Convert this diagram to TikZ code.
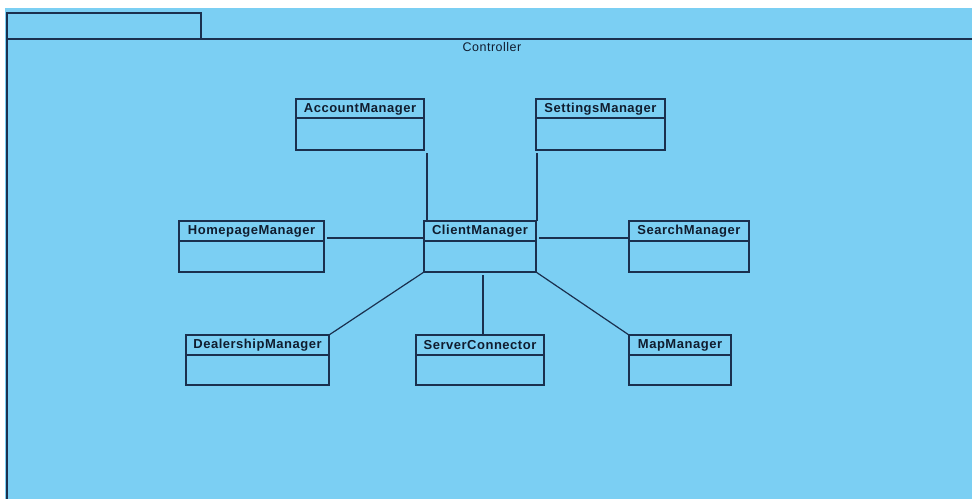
\documentclass[tikz,border=0pt]{standalone}
\usepackage{fontspec}
\setmainfont{Liberation Sans}
\newfontfamily\clsfont[LetterSpace=4]{Liberation Sans}
\newfontfamily\ttlfont[LetterSpace=4]{Liberation Sans}
\definecolor{pkgblue}{RGB}{123,207,243}
\definecolor{lncol}{RGB}{26,48,78}
\definecolor{txtcol}{RGB}{16,28,46}
\tikzset{
  ln/.style={draw=lncol, line width=1.2pt},
  clsbox/.style={draw=lncol, line width=1.2pt, rectangle, inner sep=0pt, outer sep=0pt},
  clstext/.style={text=txtcol, inner sep=0pt, font=\clsfont\bfseries\fontsize{13}{15}\selectfont},
  ttltext/.style={text=txtcol, inner sep=0pt, font=\ttlfont\fontsize{12.5}{15}\selectfont}
}
\newcommand\umlcls[7]{%
  \node[clsbox, minimum width={#4-#2}, minimum height={#6-#3}] (#1) at ({(#2+#4)/2},{(#3+#6)/2}) {};
  \draw[ln] (#2,#5) -- (#4,#5);
  \node[clstext] (#1-t) at ({(#2+#4)/2},{(#3+#5)/2+0.5}) {#7};
}
\begin{document}
\begin{tikzpicture}[x=1pt,y=-1pt]
\useasboundingbox (0,0) rectangle (972,499);
\fill[white] (0,0) rectangle (972,499);
\fill[pkgblue] (5,8) rectangle (972,499);
% package frame
\draw[ln] (7,39) rectangle (201,13);
\draw[ln] (972,39) -- (7,39) -- (7,499);
\node[ttltext] (title) at (492,47.5) {Controller};
% classes
\umlcls{acc}{296}{99}{424}{118}{150}{AccountManager}
\umlcls{set}{536}{99}{665}{118}{150}{SettingsManager}
\umlcls{home}{179}{221}{324}{241}{272}{HomepageManager}
\umlcls{client}{424}{221}{536}{241}{272}{ClientManager}
\umlcls{search}{629}{221}{749}{241}{272}{SearchManager}
\umlcls{deal}{186}{335}{329}{355}{385}{DealershipManager}
\umlcls{server}{416}{335}{544}{355}{385}{ServerConnector}
\umlcls{map}{629}{335}{731}{355}{385}{MapManager}
% connectors
\draw[ln] ([xshift=3pt,yshift=-3pt]acc.south east) -- ([xshift=3pt]client.north west);
\draw[ln] ([xshift=1pt,yshift=-3pt]set.south west) -- ([xshift=1pt]client.north east);
\draw[ln] ([xshift=3pt,yshift=-17pt]home.north east) -- ([yshift=-17pt]client.north west);
\draw[ln] ([xshift=3pt,yshift=-17pt]client.north east) -- ([yshift=-17pt]search.north west);
\draw[ln] (client.south west) -- (deal.north east);
\draw[ln] ([xshift=3pt,yshift=-3pt]client.south) -- ([xshift=3pt]server.north);
\draw[ln] (client.south east) -- (map.north west);
\end{tikzpicture}
\end{document}
